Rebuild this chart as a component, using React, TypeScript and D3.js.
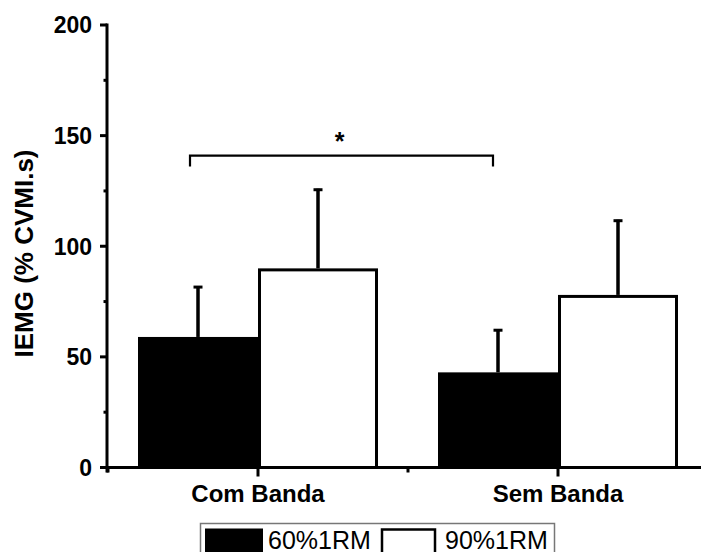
import React from "react";
import * as d3 from "d3";

// Groups, series and their values (mean and standard deviation of IEMG, % CVMI.s)
const categories = ["Com Banda", "Sem Banda"];
const seriesNames = ["60%1RM", "90%1RM"];
const means60 = [59, 43];
const sd60 = [23, 19.5];
const means90 = [90, 78];
const sd90 = [36, 34];
const majorTicks = [0, 50, 100, 150, 200];
const minorTicks = [25, 75, 125, 175];
const yTitle = "IEMG (% CVMI.s)";
const significanceMark = "*";
const bracketLevel = 141;

const W = 701;
const H = 552;
const FONT = "Arial, 'Liberation Sans', Helvetica, sans-serif";

export default function App() {
  const y = d3.scaleLinear().domain([0, 200]).range([467.5, 25]);
  const x = d3.scaleBand<string>().domain(categories).range([108, 708]).paddingInner(0).paddingOuter(0);
  const xs = d3
    .scaleBand<string>()
    .domain(seriesNames)
    .range([30, x.bandwidth() - 30])
    .padding(0);

  const series = [
    { name: seriesNames[0], means: means60, sds: sd60, fill: "#000" },
    { name: seriesNames[1], means: means90, sds: sd90, fill: "#fff" },
  ];

  const axisX = 107;
  const axisY = y(0);
  const bw = xs.bandwidth();

  // bracket between the 60%1RM bars of both groups
  const bx0 = (x(categories[0]) as number) + (xs(seriesNames[0]) as number) + bw / 2 - 8;
  const bx1 = (x(categories[1]) as number) + (xs(seriesNames[0]) as number) + bw / 2 - 5;
  const by = y(bracketLevel);

  const minorX = [108, 408, 708];

  return (
    <svg
      width={W}
      height={H}
      style={{ position: "absolute", left: 0, top: 0, background: "#fff" }}
      fontFamily={FONT}
    >
      <rect x={0} y={0} width={W} height={H} fill="#fff" />

      {/* bars */}
      {series.map((s, si) =>
        categories.map((c, ci) => {
          const x0 = (x(c) as number) + (xs(s.name) as number);
          const top = y(s.means[ci]);
          const errTop = y(s.means[ci] + s.sds[ci]);
          const cx = x0 + bw / 2;
          return (
            <g key={`${si}-${ci}`}>
              <line x1={cx} x2={cx} y1={top} y2={errTop} stroke="#000" strokeWidth={3.5} />
              <line x1={cx - 4.5} x2={cx + 4.5} y1={errTop + 1} y2={errTop + 1} stroke="#000" strokeWidth={3} />
              {s.fill === "#000" ? (
                <rect x={x0} y={top} width={bw} height={axisY - top} fill="#000" />
              ) : (
                <rect
                  x={x0 + 1.5}
                  y={top + 1.5}
                  width={bw - 3}
                  height={axisY - top - 1.5}
                  fill="#fff"
                  stroke="#000"
                  strokeWidth={3}
                />
              )}
            </g>
          );
        })
      )}

      {/* y axis */}
      <line x1={axisX} x2={axisX} y1={y(200) - 1.5} y2={axisY + 5} stroke="#000" strokeWidth={3} />
      {majorTicks.map((t) => (
        <g key={`M${t}`}>
          <line x1={axisX - 7} x2={axisX} y1={y(t)} y2={y(t)} stroke="#000" strokeWidth={3} />
          <text
            x={92}
            y={y(t)}
            dy="0.36em"
            textAnchor="end"
            fontSize={23}
            fontWeight="bold"
            fill="#000"
          >
            {t}
          </text>
        </g>
      ))}
      {minorTicks.map((t) => (
        <line key={`m${t}`} x1={axisX - 3.5} x2={axisX} y1={y(t)} y2={y(t)} stroke="#000" strokeWidth={3} />
      ))}
      <text
        transform={`translate(24,${253.5}) rotate(-90)`}
        textAnchor="middle"
        dy="0.36em"
        fontSize={26}
        fontWeight="bold"
        fill="#000"
      >
        {yTitle}
      </text>

      {/* x axis */}
      <line x1={axisX} x2={W + 10} y1={axisY} y2={axisY} stroke="#000" strokeWidth={3} />
      {categories.map((c) => {
        const cx = (x(c) as number) + x.bandwidth() / 2;
        return (
          <g key={c}>
            <line x1={cx} x2={cx} y1={axisY} y2={axisY + 9} stroke="#000" strokeWidth={3} />
            <text x={cx} y={501.5} textAnchor="middle" fontSize={24} fontWeight="bold" fill="#000">
              {c}
            </text>
          </g>
        );
      })}
      {minorX.map((mx) => (
        <line key={`mx${mx}`} x1={mx} x2={mx} y1={axisY} y2={axisY + 5} stroke="#000" strokeWidth={3} />
      ))}

      {/* significance bracket */}
      <path
        d={`M${bx0},${by + 11}V${by}H${bx1}V${by + 11}`}
        fill="none"
        stroke="#000"
        strokeWidth={2.2}
      />
      <text
        x={(bx0 + bx1) / 2 - 2}
        y={150}
        textAnchor="middle"
        fontSize={25}
        fontWeight="bold"
        fill="#000"
      >
        {significanceMark}
      </text>

      {/* legend */}
      <g>
        <rect x={200.5} y={523.5} width={354} height={40} fill="#fff" stroke="#777" strokeWidth={1.5} />
        <rect x={205} y={528.5} width={58} height={30} fill="#000" />
        <text x={268} y={548.5} fontSize={25} fill="#000">
          {seriesNames[0]}
        </text>
        <rect x={382} y={529.5} width={53} height={30} fill="#fff" stroke="#000" strokeWidth={2.5} />
        <text x={445} y={548.5} fontSize={25} fill="#000">
          {seriesNames[1]}
        </text>
      </g>
    </svg>
  );
}
